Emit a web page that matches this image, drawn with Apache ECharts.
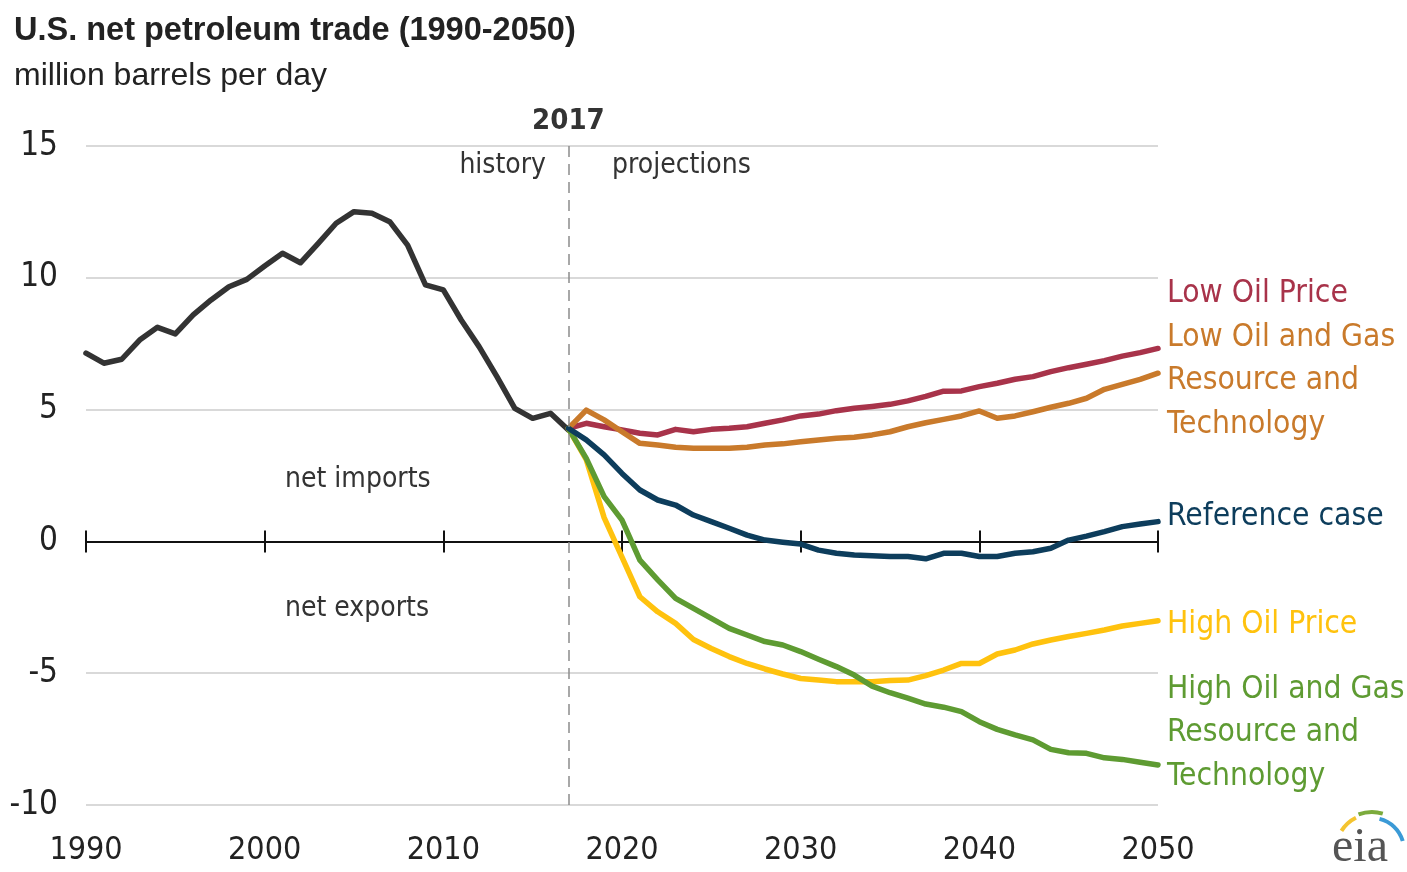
<!DOCTYPE html>
<html>
<head>
<meta charset="utf-8">
<script src="https://cdn.jsdelivr.net/npm/echarts@6/dist/echarts.min.js"></script>
<style>
  html, body { margin: 0; padding: 0; background: #fff; }
  #main { width: 1407px; height: 872px; }
</style>
</head>
<body>
<div id="main"></div>
<script>
// history 1990-2017
var histYears = [];
for (var y = 1990; y <= 2017; y++) histYears.push(y);
var histValues = [7.14, 6.76, 6.91, 7.64, 8.12, 7.87, 8.59, 9.16, 9.66, 9.94,
  10.45, 10.93, 10.57, 11.31, 12.07, 12.51, 12.45, 12.13, 11.24, 9.73,
  9.54, 8.40, 7.39, 6.25, 5.05, 4.67, 4.86, 4.23];

// projections 2017-2050
var projYears = [];
for (var y2 = 2017; y2 <= 2050; y2++) projYears.push(y2);
var lowPrice = [4.29, 4.48, 4.35, 4.23, 4.10, 4.04, 4.25, 4.16, 4.25, 4.29,
  4.35, 4.48, 4.61, 4.76, 4.83, 4.96, 5.05, 5.12, 5.20, 5.33,
  5.50, 5.70, 5.71, 5.87, 6.00, 6.15, 6.25, 6.44, 6.59, 6.72,
  6.86, 7.03, 7.16, 7.32];
var lowResource = [4.29, 4.98, 4.61, 4.16, 3.72, 3.66, 3.57, 3.53, 3.53, 3.53,
  3.57, 3.66, 3.70, 3.78, 3.85, 3.91, 3.95, 4.04, 4.16, 4.35,
  4.50, 4.63, 4.76, 4.95, 4.67, 4.76, 4.92, 5.09, 5.24, 5.43,
  5.77, 5.96, 6.15, 6.38];
var reference = [4.29, 3.85, 3.28, 2.58, 1.95, 1.57, 1.38, 1.00, 0.75, 0.50,
  0.24, 0.05, -0.03, -0.10, -0.33, -0.45, -0.52, -0.54, -0.57, -0.57,
  -0.66, -0.45, -0.45, -0.57, -0.57, -0.45, -0.39, -0.26, 0.05, 0.20,
  0.37, 0.56, 0.66, 0.75];
var highPrice = [4.29, 3.10, 0.90, -0.60, -2.10, -2.67, -3.11, -3.72, -4.06, -4.37,
  -4.63, -4.84, -5.03, -5.20, -5.26, -5.32, -5.32, -5.32, -5.28, -5.26,
  -5.09, -4.88, -4.63, -4.63, -4.27, -4.12, -3.89, -3.74, -3.61, -3.49,
  -3.36, -3.21, -3.11, -3.01];
var highResource = [4.29, 3.15, 1.70, 0.81, -0.71, -1.46, -2.16, -2.54, -2.92, -3.30,
  -3.55, -3.80, -3.93, -4.18, -4.47, -4.75, -5.07, -5.49, -5.74, -5.95,
  -6.17, -6.29, -6.46, -6.84, -7.13, -7.34, -7.53, -7.89, -8.02, -8.04,
  -8.21, -8.27, -8.38, -8.48];

var FONT = '"Liberation Sans", Arial, sans-serif';
var NARROW = '"DejaVu Sans Condensed", "Liberation Sans Narrow", sans-serif';

function pairs(xs, ys) {
  var out = [];
  for (var i = 0; i < xs.length; i++) out.push([xs[i], ys[i]]);
  return out;
}

function proj(name, values, color) {
  return {
    name: name,
    type: 'line',
    data: pairs(projYears, values),
    showSymbol: false,
    lineStyle: { color: color, width: 5.5, join: 'round', cap: 'round' },
    itemStyle: { color: color },
    animation: false
  };
}

var myChart = echarts.init(document.getElementById('main'));

myChart.setOption({
  animation: false,
  grid: { left: 86, right: 249, top: 146, bottom: 67 },
  xAxis: [
    {
      type: 'value', min: 1990, max: 2050, interval: 10,
      position: 'bottom',
      axisLine: { show: false, onZero: false },
      axisTick: { show: false },
      splitLine: { show: false },
      axisLabel: { color: '#222', fontSize: 32, fontFamily: NARROW, margin: 30,
        formatter: function (v) { return String(v); } }
    },
    {
      type: 'value', min: 1990, max: 2050, interval: 10,
      position: 'bottom',
      axisLine: { show: true, onZero: true, onZeroAxisIndex: 0, lineStyle: { color: '#111', width: 2 } },
      axisTick: { show: true, length: 11, lineStyle: { color: '#111', width: 2 } },
      axisLabel: { show: false },
      splitLine: { show: false }
    },
    {
      type: 'value', min: 1990, max: 2050, interval: 10,
      position: 'top',
      axisLine: { show: true, onZero: true, onZeroAxisIndex: 0, lineStyle: { color: '#111', width: 2 } },
      axisTick: { show: true, length: 11, lineStyle: { color: '#111', width: 2 } },
      axisLabel: { show: false },
      splitLine: { show: false }
    }
  ],
  yAxis: {
    type: 'value', min: -10, max: 15, interval: 5,
    axisLine: { show: false },
    axisTick: { show: false },
    splitLine: { lineStyle: { color: '#d9d9d9', width: 2 } },
    axisLabel: { color: '#222', fontSize: 33, fontFamily: NARROW, margin: 28 }
  },
  series: [
    {
      name: 'history',
      type: 'line',
      data: pairs(histYears, histValues),
      showSymbol: false,
      lineStyle: { color: '#333333', width: 5.5, join: 'round', cap: 'round' },
      itemStyle: { color: '#333333' },
      markLine: {
        silent: true,
        symbol: 'none',
        lineStyle: { color: '#8c8c8c', width: 1.5, type: [11, 7] },
        label: {
          show: true, position: 'end', formatter: '2017',
          fontFamily: NARROW, fontWeight: 'bold', fontSize: 29, color: '#333', distance: 10
        },
        data: [{ xAxis: 2017 }]
      }
    },
    proj('Low Oil Price', lowPrice, '#a8334a'),
    proj('Low Oil and Gas Resource and Technology', lowResource, '#c97a2b'),
    proj('High Oil Price', highPrice, '#ffc20e'),
    proj('High Oil and Gas Resource and Technology', highResource, '#5e9b32'),
    proj('Reference case', reference, '#0d3d5c')
  ],
  graphic: [
    { type: 'text', left: 14, top: 15, style: { text: 'U.S. net petroleum trade (1990-2050)', font: 'bold 32.5px ' + FONT, fill: '#222' } },
    { type: 'text', left: 14, top: 60, style: { text: 'million barrels per day', font: '32px ' + FONT, fill: '#222' } },
    { type: 'text', right: 1407 - 546, top: 152, style: { text: 'history', font: '28px ' + NARROW, fill: '#333' } },
    { type: 'text', left: 612, top: 152, style: { text: 'projections', font: '28px ' + NARROW, fill: '#333' } },
    { type: 'text', left: 285, top: 466, style: { text: 'net imports', font: '28px ' + NARROW, fill: '#333' } },
    { type: 'text', left: 285, top: 595, style: { text: 'net exports', font: '28px ' + NARROW, fill: '#333' } },
    { type: 'text', left: 1167, top: 278, style: { text: 'Low Oil Price', font: '31.5px ' + NARROW, fill: '#a8334a' } },
    { type: 'text', left: 1167, top: 316, style: { text: 'Low Oil and Gas\nResource and\nTechnology', font: '31.5px ' + NARROW, lineHeight: 43.5, fill: '#c97a2b' } },
    { type: 'text', left: 1167, top: 501, style: { text: 'Reference case', font: '31.5px ' + NARROW, fill: '#0d3d5c' } },
    { type: 'text', left: 1167, top: 609, style: { text: 'High Oil Price', font: '31.5px ' + NARROW, fill: '#ffc20e' } },
    { type: 'text', left: 1167, top: 668, style: { text: 'High Oil and Gas\nResource and\nTechnology', font: '31.5px ' + NARROW, lineHeight: 43.5, fill: '#5e9b32' } },
    // eia logo
    { type: 'arc', shape: { cx: 1372, cy: 850, r: 36, startAngle: 3.7, endAngle: 4.25 }, style: { stroke: '#f4c430', lineWidth: 4, fill: null } },
    { type: 'arc', shape: { cx: 1372, cy: 850, r: 38, startAngle: 4.35, endAngle: 5.0 }, style: { stroke: '#7bab3c', lineWidth: 4, fill: null } },
    { type: 'arc', shape: { cx: 1372, cy: 850, r: 32, startAngle: 4.95, endAngle: 6.0 }, style: { stroke: '#3b9ad6', lineWidth: 4, fill: null } },
    { type: 'text', left: 1332, top: 824, style: { text: 'eia', font: '48px "Liberation Serif", "DejaVu Serif", serif', fill: '#555' } }
  ]
});
window.onresize = myChart.resize;
</script>
</body>
</html>
